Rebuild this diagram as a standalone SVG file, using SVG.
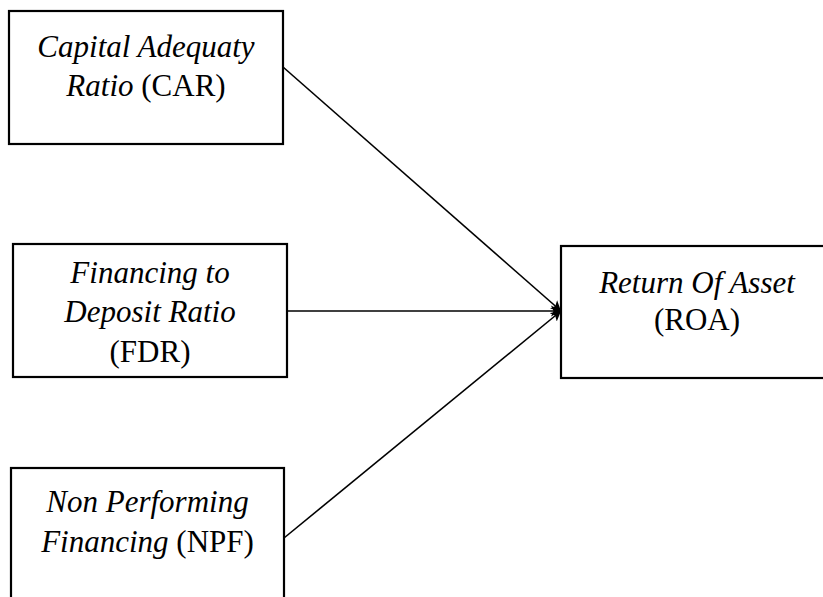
<svg xmlns="http://www.w3.org/2000/svg" width="823" height="597" viewBox="0 0 823 597">
<style>
.box{fill:#fff;stroke:#000;stroke-width:2.2}
.t{font-family:"Liberation Serif","Times New Roman",serif;font-size:31px;fill:#000;text-anchor:middle}
.i{font-style:italic}
.c{stroke:#000;stroke-width:1.6;fill:none;marker-end:url(#ah)}
</style>
<defs>
<marker id="ah" markerWidth="12" markerHeight="12" refX="10" refY="6" orient="auto" markerUnits="userSpaceOnUse">
<path d="M0,0.5 L10,6 L0,11.5 L2.5,6 z" fill="#000"/>
</marker>
</defs>
<rect width="823" height="597" fill="#fff"/>
<g id="car">
<rect class="box" x="9" y="11" width="274" height="133"/>
<text class="t i" x="146" y="57">Capital Adequaty</text>
<text class="t" x="146" y="96"><tspan class="i">Ratio</tspan> (CAR)</text>
</g>
<g id="fdr">
<rect class="box" x="13" y="244" width="274" height="133"/>
<text class="t i" x="150" y="283">Financing to</text>
<text class="t i" x="150" y="322">Deposit Ratio</text>
<text class="t" x="150" y="362">(FDR)</text>
</g>
<g id="npf">
<rect class="box" x="11" y="468" width="273" height="140"/>
<text class="t i" x="147.5" y="512">Non Performing</text>
<text class="t" x="147.5" y="552"><tspan class="i">Financing</tspan> (NPF)</text>
</g>
<g id="roa">
<rect class="box" x="561" y="246" width="272" height="132"/>
<text class="t i" x="697" y="293">Return Of Asset</text>
<text class="t" x="697" y="330">(ROA)</text>
</g>
<g id="connectors">
<line class="c" x1="283" y1="67" x2="561" y2="311"/>
<line class="c" x1="287" y1="311" x2="561" y2="311"/>
<line class="c" x1="284" y1="538" x2="561" y2="311"/>
</g>
</svg>
